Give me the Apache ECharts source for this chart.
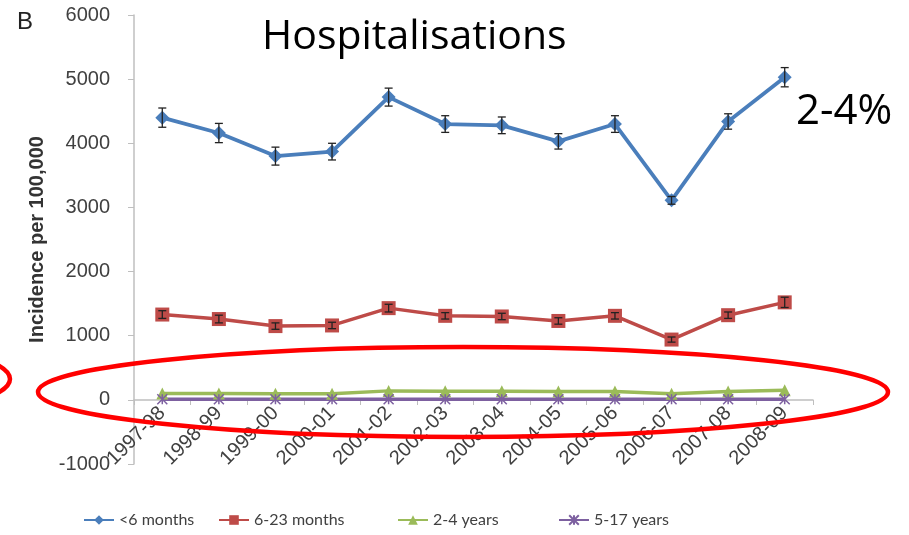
<!DOCTYPE html>
<html>
<head>
<meta charset="utf-8">
<script src="https://cdn.jsdelivr.net/npm/echarts@6/dist/echarts.min.js"></script>
<style>html,body{margin:0;padding:0;background:#fff;}#c{width:909px;height:535px;}</style>
</head>
<body>
<div id="c"></div>
<script>
const categories = ['1997-98','1998-99','1999-00','2000-01','2001-02','2002-03','2003-04','2004-05','2005-06','2006-07','2007-08','2008-09'];
const under6m = [4400, 4160, 3800, 3870, 4720, 4300, 4280, 4030, 4300, 3110, 4340, 5030];
const under6mErr = [150, 150, 140, 130, 140, 130, 130, 120, 130, 60, 120, 150];
const m6to23 = [1330, 1260, 1150, 1160, 1430, 1310, 1300, 1230, 1310, 940, 1320, 1520];
const m6to23Err = [60, 60, 50, 50, 60, 50, 50, 50, 50, 40, 50, 80];
const y2to4 = [100, 100, 95, 95, 140, 135, 135, 130, 130, 95, 130, 150];
const y5to17 = [8, 8, 8, 8, 10, 10, 10, 10, 10, 8, 10, 10];
const seriesNames = ['<6 months', '6-23 months', '2-4 years', '5-17 years'];
const yTicks = { min: -1000, max: 6000, interval: 1000 };

const colors = ['#4a7ebb', '#be4b48', '#9bbb59', '#7d60a0'];
const xPath = 'path://M0,0L10,10M10,0L0,10M5,0L5,10';
const legendLefts = [78, 213, 392, 553];

function errData(vals, errs) {
  return vals.map((v, i) => [i, v - errs[i], v + errs[i]]);
}
function errSeries(vals, errs) {
  return {
    type: 'custom',
    z: 5,
    silent: true,
    data: errData(vals, errs),
    renderItem: function (params, api) {
      const x = api.value(0);
      const top = api.coord([x, api.value(2)]);
      const bot = api.coord([x, api.value(1)]);
      const hw = 4;
      const st = { stroke: '#222', lineWidth: 1.3 };
      return {
        type: 'group',
        children: [
          { type: 'line', shape: { x1: top[0], y1: top[1], x2: bot[0], y2: bot[1] }, style: st },
          { type: 'line', shape: { x1: top[0] - hw, y1: top[1], x2: top[0] + hw, y2: top[1] }, style: st },
          { type: 'line', shape: { x1: bot[0] - hw, y1: bot[1], x2: bot[0] + hw, y2: bot[1] }, style: st }
        ]
      };
    }
  };
}

const chart = echarts.init(document.getElementById('c'), null, { renderer: 'canvas' });
const labelFont = '"Liberation Sans", Arial, sans-serif';
chart.setOption({
  animation: false,
  backgroundColor: '#ffffff',
  color: colors,
  grid: { left: 134, right: 96, top: 15, bottom: 71, containLabel: false },
  legend: seriesNames.map((n, i) => ({
    data: [n],
    left: legendLefts[i],
    bottom: 2,
    itemWidth: 30,
    itemHeight: 12,
    itemGap: 3,
    textStyle: { color: '#404040', fontSize: 16, fontFamily: '"Liberation Sans Narrow", Lato, sans-serif' }
  })),
  xAxis: {
    type: 'category',
    data: categories,
    boundaryGap: true,
    offset: -64,
    axisLine: { onZero: false, lineStyle: { color: '#bfbfbf', width: 1.5 } },
    axisTick: { show: true, length: 5, lineStyle: { color: '#bfbfbf' } },
    axisLabel: { rotate: 45, margin: 10, color: '#404040', fontSize: 20, fontFamily: labelFont },
    splitLine: { show: false }
  },
  yAxis: {
    type: 'value',
    min: yTicks.min,
    max: yTicks.max,
    interval: yTicks.interval,
    name: 'Incidence per 100,000',
    nameLocation: 'middle',
    nameGap: 86,
    nameTextStyle: { color: '#333', fontSize: 20, fontWeight: 'bold', fontFamily: labelFont },
    axisLine: { show: true, lineStyle: { color: '#bfbfbf', width: 1.5 } },
    axisTick: { show: true, length: 6, lineStyle: { color: '#bfbfbf' } },
    axisLabel: { margin: 24, color: '#404040', fontSize: 20, fontFamily: labelFont, formatter: v => String(v) },
    splitLine: { show: false }
  },
  series: [
    { name: seriesNames[0], type: 'line', data: under6m, symbol: 'diamond', symbolSize: 14, lineStyle: { width: 3.8 }, z: 4 },
    { name: seriesNames[1], type: 'line', data: m6to23, symbol: 'rect', symbolSize: 14, lineStyle: { width: 3.5 }, z: 4 },
    { name: seriesNames[2], type: 'line', data: y2to4, symbol: 'triangle', symbolSize: 12, lineStyle: { width: 3.5 }, z: 3 },
    { name: seriesNames[3], type: 'line', data: y5to17, symbol: xPath, symbolSize: 10, lineStyle: { width: 3.5 },
      itemStyle: { color: '#7d60a0', borderColor: '#7d60a0', borderWidth: 1.5 }, z: 3 },
    errSeries(under6m, under6mErr),
    errSeries(m6to23, m6to23Err)
  ],
  graphic: [
    { type: 'text', left: 17, top: 10, style: { text: 'B', fill: '#222', font: '24px "Liberation Sans", Arial, sans-serif' } },
    { type: 'text', left: 262, top: 17, style: { text: 'Hospitalisations', fill: '#000', font: '41px "Open Sans", sans-serif' } },
    { type: 'text', left: 796, top: 91, style: { text: '2-4%', fill: '#000', font: '42px "Open Sans", sans-serif' } },
    { type: 'ellipse', shape: { cx: 463, cy: 392, rx: 425, ry: 45 }, style: { fill: 'none', stroke: '#ff0000', lineWidth: 4.5 }, z: 100 },
    { type: 'ellipse', shape: { cx: -190, cy: 379, rx: 200, ry: 40 }, style: { fill: 'none', stroke: '#ff0000', lineWidth: 4.5 }, z: 100 }
  ]
});
</script>
</body>
</html>
